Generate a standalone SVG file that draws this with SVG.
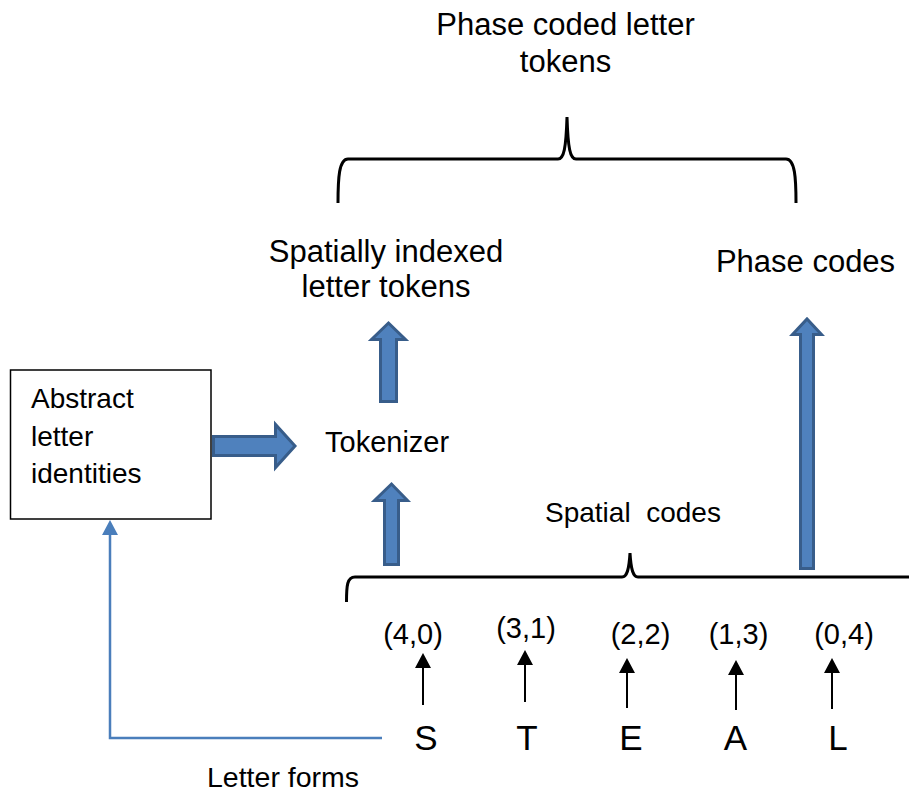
<svg xmlns="http://www.w3.org/2000/svg" width="909" height="794" viewBox="0 0 909 794">
<style>
  text { font-family: "Liberation Sans", Arial, sans-serif; fill: #000; }
  .big { font-size: 31px; }
  .mid { font-size: 28px; }
  .lbl { font-size: 29px; }
  .let { font-size: 35px; }
  .block { fill: #4F81BD; stroke: #385D8A; stroke-width: 3; stroke-linejoin: miter; }
  .brace { fill: none; stroke: #000; stroke-width: 3; stroke-linecap: butt; }
  .thin { fill: none; stroke: #000; stroke-width: 2; }
  .blue { fill: none; stroke: #4A7EBB; stroke-width: 2.5; }
</style>
<defs>
  <marker id="ah" viewBox="0 0 15 16" refX="0" refY="8" markerWidth="15" markerHeight="16" markerUnits="userSpaceOnUse" orient="auto">
    <path d="M0,0 L15,8 L0,16 Z" fill="#000"/>
  </marker>
</defs>
<rect width="909" height="794" fill="#fff"/>

<g id="title">
  <text class="big" x="565.5" y="35" text-anchor="middle">Phase coded letter</text>
  <text class="big" x="565.5" y="72" text-anchor="middle">tokens</text>
</g>

<g id="spatially-indexed">
  <text class="big" x="386" y="262" text-anchor="middle">Spatially indexed</text>
  <text class="big" x="386" y="297" text-anchor="middle">letter tokens</text>
</g>

<g id="phase-codes">
  <text class="big" x="805.5" y="272" text-anchor="middle">Phase codes</text>
</g>

<g id="abstract">
  <rect x="10.5" y="370" width="200.5" height="149" fill="#fff" stroke="#000" stroke-width="1.5"/>
  <text class="mid" x="31" y="408">Abstract</text>
  <text class="mid" x="31" y="446">letter</text>
  <text class="mid" x="31" y="483">identities</text>
</g>

<g id="tokenizer">
  <text class="mid" x="325" y="452" style="font-size:29px">Tokenizer</text>
</g>

<g id="spatial-codes">
  <text class="mid" x="545" y="522" xml:space="preserve" style="white-space:pre">Spatial  codes</text>
</g>

<g id="codes">
  <text class="lbl" x="413" y="644" text-anchor="middle">(4,0)</text>
  <text class="lbl" x="526" y="638" text-anchor="middle">(3,1)</text>
  <text class="lbl" x="640.5" y="644" text-anchor="middle">(2,2)</text>
  <text class="lbl" x="738.5" y="644" text-anchor="middle">(1,3)</text>
  <text class="lbl" x="844" y="644" text-anchor="middle">(0,4)</text>
</g>

<g id="letters">
  <text class="let" x="426" y="750" text-anchor="middle">S</text>
  <text class="let" x="527" y="750" text-anchor="middle">T</text>
  <text class="let" x="631" y="750" text-anchor="middle">E</text>
  <text class="let" x="735.5" y="750" text-anchor="middle">A</text>
  <text class="let" x="838" y="750" text-anchor="middle">L</text>
</g>

<g id="letter-forms">
  <text class="mid" x="207" y="787" style="font-size:28.5px">Letter forms</text>
</g>

<g id="connectors">
  <!-- braces -->
  <path class="brace" d="M338,203 C338,178 339,159 348,159 L558,159 C564,159 566,148 567,117 C568,148 570,159 576,159 L786,159 C795,159 796,178 796,203"/>
  <path class="brace" d="M346.5,602 C346.5,586 347,577 355,577 L622,577 C627,577 629,570 630,553 C631,570 633,577 638,577 L909,577"/>

  <!-- block arrows -->
  <polygon class="block" points="213.5,436.5 275.5,436.5 275.5,424.5 295,446 275.5,467.5 275.5,455.5 213.5,455.5"/>
  <polygon class="block" points="380.5,401.5 380.5,339.5 371.5,339.5 388.5,323 405.5,339.5 396.5,339.5 396.5,401.5"/>
  <polygon class="block" points="384.5,564.5 384.5,500.5 374.5,500.5 391.5,484 407.5,500.5 398.5,500.5 398.5,564.5"/>
  <polygon class="block" points="800.5,568.5 800.5,334.5 792.5,334.5 807,319 821.5,334.5 813.5,334.5 813.5,568.5"/>

  <!-- small black arrows -->
  <line class="thin" x1="423" y1="705" x2="423" y2="668" marker-end="url(#ah)"/>
  <line class="thin" x1="525" y1="702" x2="525" y2="665" marker-end="url(#ah)"/>
  <line class="thin" x1="627" y1="708" x2="627" y2="673" marker-end="url(#ah)"/>
  <line class="thin" x1="736" y1="710" x2="736" y2="675" marker-end="url(#ah)"/>
  <line class="thin" x1="832" y1="709" x2="832" y2="673" marker-end="url(#ah)"/>

  <!-- blue letter forms connector -->
  <polyline class="blue" points="382,738 110,738 110,533"/>
  <path d="M110,520 L118,535 L102,535 Z" fill="#4A7EBB"/>
</g>
</svg>
